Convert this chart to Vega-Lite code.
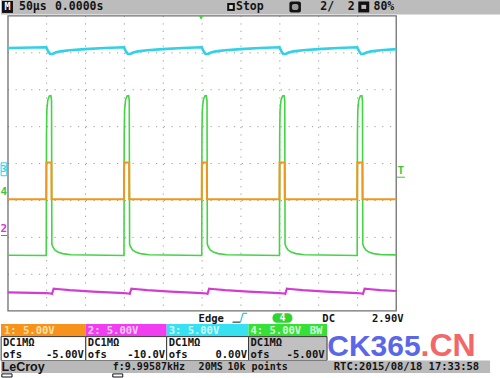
{
 "$schema": "https://vega.github.io/schema/vega-lite/v6.json",
 "width": 500, "height": 378,
 "autosize": {"type": "fit", "contains": "padding"},
 "padding": 0,
 "background": "#ffffff",
 "config": {
   "view": {"stroke": null},
   "axis": {"disable": true},
   "legend": {"disable": true},
   "text": {"font": "DejaVu Sans Mono", "fontWeight": "bold", "fontSize": 10.5, "color": "#141414", "align": "left", "baseline": "middle"}
 },
 "data": {"values": [{}]},
 "datasets": {
  "vgrid": [{"t": -200}, {"t": -150}, {"t": -100}, {"t": -50}, {"t": 0}, {"t": 50}, {"t": 100}, {"t": 150}, {"t": 200}],
  "hgrid": [{"v": -3}, {"v": -2}, {"v": -1}, {"v": 0}, {"v": 1}, {"v": 2}, {"v": 3}],
  "ch3": [
   {"t": -250, "v": 3.13},
   {"t": -200.5, "v": 3.15}, {"t": -198.5, "v": 3.06}, {"t": -195.5, "v": 2.97}, {"t": -192.5, "v": 2.97}, {"t": -188.5, "v": 3.01}, {"t": -182.5, "v": 3.04}, {"t": -170.5, "v": 3.07}, {"t": -150.5, "v": 3.1}, {"t": -125.5, "v": 3.13},
   {"t": -100.5, "v": 3.15}, {"t": -98.5, "v": 3.06}, {"t": -95.5, "v": 2.97}, {"t": -92.5, "v": 2.97}, {"t": -88.5, "v": 3.01}, {"t": -82.5, "v": 3.04}, {"t": -70.5, "v": 3.07}, {"t": -50.5, "v": 3.1}, {"t": -25.5, "v": 3.13},
   {"t": -0.5, "v": 3.15}, {"t": 1.5, "v": 3.06}, {"t": 4.5, "v": 2.97}, {"t": 7.5, "v": 2.97}, {"t": 11.5, "v": 3.01}, {"t": 17.5, "v": 3.04}, {"t": 29.5, "v": 3.07}, {"t": 49.5, "v": 3.1}, {"t": 74.5, "v": 3.13},
   {"t": 99.5, "v": 3.15}, {"t": 101.5, "v": 3.06}, {"t": 104.5, "v": 2.97}, {"t": 107.5, "v": 2.97}, {"t": 111.5, "v": 3.01}, {"t": 117.5, "v": 3.04}, {"t": 129.5, "v": 3.07}, {"t": 149.5, "v": 3.1}, {"t": 174.5, "v": 3.13},
   {"t": 199.5, "v": 3.15}, {"t": 201.5, "v": 3.06}, {"t": 204.5, "v": 2.97}, {"t": 207.5, "v": 2.97}, {"t": 211.5, "v": 3.01}, {"t": 217.5, "v": 3.04}, {"t": 229.5, "v": 3.07}, {"t": 250, "v": 3.1}
  ],
  "ch2": [
   {"t": -250, "v": -3.49},
   {"t": -200.5, "v": -3.51}, {"t": -194.5, "v": -3.52}, {"t": -193, "v": -3.53}, {"t": -191, "v": -3.39}, {"t": -186.5, "v": -3.4}, {"t": -170.5, "v": -3.43}, {"t": -140.5, "v": -3.47},
   {"t": -100.5, "v": -3.51}, {"t": -94.5, "v": -3.52}, {"t": -93, "v": -3.53}, {"t": -91, "v": -3.39}, {"t": -86.5, "v": -3.4}, {"t": -70.5, "v": -3.43}, {"t": -40.5, "v": -3.47},
   {"t": -0.5, "v": -3.51}, {"t": 5.5, "v": -3.52}, {"t": 7, "v": -3.53}, {"t": 9, "v": -3.39}, {"t": 13.5, "v": -3.4}, {"t": 29.5, "v": -3.43}, {"t": 59.5, "v": -3.47},
   {"t": 99.5, "v": -3.51}, {"t": 105.5, "v": -3.52}, {"t": 107, "v": -3.53}, {"t": 109, "v": -3.39}, {"t": 113.5, "v": -3.4}, {"t": 129.5, "v": -3.43}, {"t": 159.5, "v": -3.47},
   {"t": 199.5, "v": -3.51}, {"t": 205.5, "v": -3.52}, {"t": 207, "v": -3.53}, {"t": 209, "v": -3.39}, {"t": 213.5, "v": -3.4}, {"t": 229.5, "v": -3.43}, {"t": 250, "v": -3.455}
  ],
  "ch4": [
   {"t": -250, "v": -2.485},
   {"t": -200.5, "v": -2.49}, {"t": -200.2, "v": 0.8}, {"t": -199.7, "v": 1.45}, {"t": -198.5, "v": 1.72}, {"t": -196.5, "v": 1.83}, {"t": -194.5, "v": 1.84}, {"t": -193.7, "v": 1.7}, {"t": -193.3, "v": -2.18}, {"t": -192, "v": -2.26}, {"t": -189.5, "v": -2.34}, {"t": -185.5, "v": -2.4}, {"t": -179.5, "v": -2.44}, {"t": -168.5, "v": -2.47}, {"t": -145.5, "v": -2.48},
   {"t": -100.5, "v": -2.49}, {"t": -100.2, "v": 0.8}, {"t": -99.7, "v": 1.45}, {"t": -98.5, "v": 1.72}, {"t": -96.5, "v": 1.83}, {"t": -94.5, "v": 1.84}, {"t": -93.7, "v": 1.7}, {"t": -93.3, "v": -2.18}, {"t": -92, "v": -2.26}, {"t": -89.5, "v": -2.34}, {"t": -85.5, "v": -2.4}, {"t": -79.5, "v": -2.44}, {"t": -68.5, "v": -2.47}, {"t": -45.5, "v": -2.48},
   {"t": -0.5, "v": -2.49}, {"t": -0.2, "v": 0.8}, {"t": 0.3, "v": 1.45}, {"t": 1.5, "v": 1.72}, {"t": 3.5, "v": 1.83}, {"t": 5.5, "v": 1.84}, {"t": 6.3, "v": 1.7}, {"t": 6.7, "v": -2.18}, {"t": 8, "v": -2.26}, {"t": 10.5, "v": -2.34}, {"t": 14.5, "v": -2.4}, {"t": 20.5, "v": -2.44}, {"t": 31.5, "v": -2.47}, {"t": 54.5, "v": -2.48},
   {"t": 99.5, "v": -2.49}, {"t": 99.8, "v": 0.8}, {"t": 100.3, "v": 1.45}, {"t": 101.5, "v": 1.72}, {"t": 103.5, "v": 1.83}, {"t": 105.5, "v": 1.84}, {"t": 106.3, "v": 1.7}, {"t": 106.7, "v": -2.18}, {"t": 108, "v": -2.26}, {"t": 110.5, "v": -2.34}, {"t": 114.5, "v": -2.4}, {"t": 120.5, "v": -2.44}, {"t": 131.5, "v": -2.47}, {"t": 154.5, "v": -2.48},
   {"t": 199.5, "v": -2.49}, {"t": 199.8, "v": 0.8}, {"t": 200.3, "v": 1.45}, {"t": 201.5, "v": 1.72}, {"t": 203.5, "v": 1.83}, {"t": 205.5, "v": 1.84}, {"t": 206.3, "v": 1.7}, {"t": 206.7, "v": -2.18}, {"t": 208, "v": -2.26}, {"t": 210.5, "v": -2.34}, {"t": 214.5, "v": -2.4}, {"t": 220.5, "v": -2.44}, {"t": 231.5, "v": -2.47}, {"t": 250, "v": -2.475}
  ],
  "ch1": [
   {"t": -250, "v": -0.97},
   {"t": -200.5, "v": -0.97}, {"t": -200.3, "v": 0.03}, {"t": -193.9, "v": 0.03}, {"t": -193.7, "v": -0.97},
   {"t": -100.5, "v": -0.97}, {"t": -100.3, "v": 0.03}, {"t": -93.9, "v": 0.03}, {"t": -93.7, "v": -0.97},
   {"t": -0.5, "v": -0.97}, {"t": -0.3, "v": 0.03}, {"t": 6.1, "v": 0.03}, {"t": 6.3, "v": -0.97},
   {"t": 99.5, "v": -0.97}, {"t": 99.7, "v": 0.03}, {"t": 106.1, "v": 0.03}, {"t": 106.3, "v": -0.97},
   {"t": 199.5, "v": -0.97}, {"t": 199.7, "v": 0.03}, {"t": 206.1, "v": 0.03}, {"t": 206.3, "v": -0.97},
   {"t": 250, "v": -0.97}
  ]
 },
 "layer": [
  {"mark": {"type": "rect", "color": "#bcbcbc"},
   "encoding": {
    "x": {"datum": -258.7, "type": "quantitative", "scale": {"domain": [-258.7, 383.2], "nice": false, "zero": false}},
    "x2": {"datum": 383.2},
    "y": {"datum": 4.432, "type": "quantitative", "scale": {"domain": [-5.784, 4.432], "nice": false, "zero": false}},
    "y2": {"datum": 4.041}}},
  {"mark": {"type": "rect", "color": "#111111"}, "encoding": {"x": {"datum": -257.4}, "x2": {"datum": -243.3}, "y": {"datum": 4.405}, "y2": {"datum": 4.081}}},
  {"mark": {"type": "text", "text": "M", "color": "#ffffff", "align": "center", "fontSize": 10}, "encoding": {"x": {"datum": -250.3}, "y": {"datum": 4.243}}},
  {"mark": {"type": "text", "text": "50µs", "fontSize": 11.5}, "encoding": {"x": {"datum": -235.6}, "y": {"datum": 4.243}}},
  {"mark": {"type": "text", "text": "0.0000s", "fontSize": 11.5}, "encoding": {"x": {"datum": -189.3}, "y": {"datum": 4.243}}},
  {"mark": {"type": "rect", "color": "#111111"}, "encoding": {"x": {"datum": 32.3}, "x2": {"datum": 42.1}, "y": {"datum": 4.351}, "y2": {"datum": 4.135}}},
  {"mark": {"type": "rect", "color": "#d8d8d8"}, "encoding": {"x": {"datum": 34.9}, "x2": {"datum": 39.5}, "y": {"datum": 4.297}, "y2": {"datum": 4.189}}},
  {"mark": {"type": "text", "text": "Stop", "fontSize": 11.5}, "encoding": {"x": {"datum": 43.6}, "y": {"datum": 4.243}}},
  {"mark": {"type": "rect", "color": "#111111", "cornerRadius": 2}, "encoding": {"x": {"datum": 112.3}, "x2": {"datum": 127.1}, "y": {"datum": 4.392}, "y2": {"datum": 4.095}}},
  {"mark": {"type": "rect", "color": "#9a9a9a", "cornerRadius": 2}, "encoding": {"x": {"datum": 115.5}, "x2": {"datum": 123.9}, "y": {"datum": 4.324}, "y2": {"datum": 4.162}}},
  {"mark": {"type": "text", "text": "2/", "fontSize": 11.5}, "encoding": {"x": {"datum": 152.1}, "y": {"datum": 4.243}}},
  {"mark": {"type": "text", "text": "2", "fontSize": 11.5}, "encoding": {"x": {"datum": 187.5}, "y": {"datum": 4.243}}},
  {"mark": {"type": "rect", "color": "#111111"}, "encoding": {"x": {"datum": 200.9}, "x2": {"datum": 215.0}, "y": {"datum": 4.392}, "y2": {"datum": 4.095}}},
  {"mark": {"type": "rect", "color": "#bdbdbd"}, "encoding": {"x": {"datum": 204.9}, "x2": {"datum": 211.0}, "y": {"datum": 4.3}, "y2": {"datum": 4.19}}},
  {"mark": {"type": "text", "text": "80%", "fontSize": 11.5}, "encoding": {"x": {"datum": 220.5}, "y": {"datum": 4.243}}},

  {"data": {"name": "vgrid"}, "mark": {"type": "rule", "color": "#9c9c9c", "strokeWidth": 1, "strokeDash": [1.2, 6.2]},
   "encoding": {"x": {"field": "t", "type": "quantitative"}, "y": {"datum": 4}, "y2": {"datum": -4}}},
  {"data": {"name": "hgrid"}, "mark": {"type": "rule", "color": "#9c9c9c", "strokeWidth": 1, "strokeDash": [1.2, 6.6]},
   "encoding": {"y": {"field": "v", "type": "quantitative"}, "x": {"datum": -250}, "x2": {"datum": 250}}},
  {"mark": {"type": "rect", "filled": false, "stroke": "#707070", "strokeWidth": 1.3}, "encoding": {"x": {"datum": -249.7}, "x2": {"datum": 249.7}, "y": {"datum": 4}, "y2": {"datum": -3.99}}},
  {"mark": {"type": "point", "shape": "triangle-down", "filled": true, "color": "#3fd23f", "size": 22, "opacity": 1}, "encoding": {"x": {"datum": -1.3}, "y": {"datum": 3.95}}},

  {"data": {"name": "ch3"}, "mark": {"type": "line", "color": "#33d0e6", "strokeWidth": 2.6}, "encoding": {"x": {"field": "t", "type": "quantitative"}, "y": {"field": "v", "type": "quantitative"}}},
  {"data": {"name": "ch2"}, "mark": {"type": "line", "color": "#d23cd2", "strokeWidth": 2.1}, "encoding": {"x": {"field": "t", "type": "quantitative"}, "y": {"field": "v", "type": "quantitative"}}},
  {"data": {"name": "ch4"}, "mark": {"type": "line", "color": "#45d445", "strokeWidth": 1.6}, "encoding": {"x": {"field": "t", "type": "quantitative"}, "y": {"field": "v", "type": "quantitative"}}},
  {"data": {"name": "ch1"}, "mark": {"type": "line", "color": "#f0961e", "strokeWidth": 2}, "encoding": {"x": {"field": "t", "type": "quantitative"}, "y": {"field": "v", "type": "quantitative"}}},

  {"mark": {"type": "rect", "filled": false, "stroke": "#33d0e6", "strokeWidth": 1}, "encoding": {"x": {"datum": -258.5}, "x2": {"datum": -251.3}, "y": {"datum": 0.02}, "y2": {"datum": -0.33}}},
  {"mark": {"type": "text", "text": "3", "color": "#33d0e6", "align": "center", "fontSize": 9.5}, "encoding": {"x": {"datum": -255.2}, "y": {"datum": -0.16}}},
  {"mark": {"type": "text", "text": "4", "color": "#3cc83c", "align": "center", "fontSize": 11}, "encoding": {"x": {"datum": -255.2}, "y": {"datum": -0.76}}},
  {"mark": {"type": "text", "text": "2", "color": "#d23cd2", "align": "center", "fontSize": 11}, "encoding": {"x": {"datum": -255.2}, "y": {"datum": -1.78}}},
  {"mark": {"type": "rule", "color": "#d23cd2", "strokeWidth": 1}, "encoding": {"x": {"datum": -258.7}, "x2": {"datum": -250.5}, "y": {"datum": -1.95}}},
  {"mark": {"type": "text", "text": "T", "color": "#3cc83c", "align": "center", "fontSize": 11}, "encoding": {"x": {"datum": 255.5}, "y": {"datum": -0.2}}},
  {"mark": {"type": "rule", "color": "#3cc83c", "strokeWidth": 1}, "encoding": {"x": {"datum": 250.5}, "x2": {"datum": 261}, "y": {"datum": -0.37}}},

  {"mark": {"type": "text", "text": "Edge"}, "encoding": {"x": {"datum": -4.5}, "y": {"datum": -4.2}}},
  {"mark": {"type": "rule", "color": "#141414", "strokeWidth": 1}, "encoding": {"x": {"datum": 39.2}, "x2": {"datum": 49.4}, "y": {"datum": -4.297}}},
  {"mark": {"type": "rule", "color": "#33c8e0", "strokeWidth": 1.3}, "encoding": {"x": {"datum": 49.4}, "x2": {"datum": 52.5}, "y": {"datum": -4.297}, "y2": {"datum": -4.06}}},
  {"mark": {"type": "rule", "color": "#33c8e0", "strokeWidth": 1.3}, "encoding": {"x": {"datum": 52.5}, "x2": {"datum": 58}, "y": {"datum": -4.06}}},
  {"mark": {"type": "rect", "color": "#2fd42f", "cornerRadius": 4.5}, "encoding": {"x": {"datum": 90.5}, "x2": {"datum": 116.2}, "y": {"datum": -4.054}, "y2": {"datum": -4.311}}},
  {"mark": {"type": "text", "text": "4", "color": "#ffffff", "align": "center", "fontSize": 10}, "encoding": {"x": {"datum": 103.3}, "y": {"datum": -4.18}}},
  {"mark": {"type": "text", "text": "DC"}, "encoding": {"x": {"datum": 154.7}, "y": {"datum": -4.2}}},
  {"mark": {"type": "text", "text": "2.90V"}, "encoding": {"x": {"datum": 218.5}, "y": {"datum": -4.2}}},

  {"mark": {"type": "rect", "color": "#f7921c"}, "encoding": {"x": {"datum": -258.7}, "x2": {"datum": -149.6}, "y": {"datum": -4.351}, "y2": {"datum": -4.689}}},
  {"mark": {"type": "rect", "color": "#f23cf2"}, "encoding": {"x": {"datum": -149.6}, "x2": {"datum": -45.6}, "y": {"datum": -4.351}, "y2": {"datum": -4.689}}},
  {"mark": {"type": "rect", "color": "#36e2f2"}, "encoding": {"x": {"datum": -45.6}, "x2": {"datum": 59.7}, "y": {"datum": -4.351}, "y2": {"datum": -4.689}}},
  {"mark": {"type": "rect", "color": "#36e036"}, "encoding": {"x": {"datum": 59.7}, "x2": {"datum": 160.7}, "y": {"datum": -4.351}, "y2": {"datum": -4.689}}},
  {"mark": {"type": "rect", "fill": "#ffffff", "stroke": "#3a3a3a", "strokeWidth": 1}, "encoding": {"x": {"datum": -258.5}, "x2": {"datum": -149.6}, "y": {"datum": -4.689}, "y2": {"datum": -5.338}}},
  {"mark": {"type": "rect", "fill": "#ffffff", "stroke": "#3a3a3a", "strokeWidth": 1}, "encoding": {"x": {"datum": -149.6}, "x2": {"datum": -45.6}, "y": {"datum": -4.689}, "y2": {"datum": -5.338}}},
  {"mark": {"type": "rect", "fill": "#ffffff", "stroke": "#3a3a3a", "strokeWidth": 1}, "encoding": {"x": {"datum": -45.6}, "x2": {"datum": 59.7}, "y": {"datum": -4.689}, "y2": {"datum": -5.338}}},
  {"mark": {"type": "rect", "fill": "#c0c0c0", "stroke": "#3a3a3a", "strokeWidth": 1}, "encoding": {"x": {"datum": 59.7}, "x2": {"datum": 160.7}, "y": {"datum": -4.689}, "y2": {"datum": -5.338}}},
  {"mark": {"type": "text", "text": "1: 5.00V", "color": "#ffe2a6"}, "encoding": {"x": {"datum": -254.8}, "y": {"datum": -4.527}}},
  {"mark": {"type": "text", "text": "2: 5.00V", "color": "#ffd0ff"}, "encoding": {"x": {"datum": -147.0}, "y": {"datum": -4.527}}},
  {"mark": {"type": "text", "text": "3: 5.00V", "color": "#d6fbff"}, "encoding": {"x": {"datum": -43.0}, "y": {"datum": -4.527}}},
  {"mark": {"type": "text", "text": "4: 5.00V", "color": "#d6ffd6"}, "encoding": {"x": {"datum": 62.3}, "y": {"datum": -4.527}}},
  {"mark": {"type": "text", "text": "BW", "color": "#d6ffd6", "align": "right"}, "encoding": {"x": {"datum": 154.7}, "y": {"datum": -4.527}}},
  {"mark": {"type": "text", "text": "DC1MΩ"}, "encoding": {"x": {"datum": -256.1}, "y": {"datum": -4.851}}},
  {"mark": {"type": "text", "text": "DC1MΩ"}, "encoding": {"x": {"datum": -147.0}, "y": {"datum": -4.851}}},
  {"mark": {"type": "text", "text": "DC1MΩ"}, "encoding": {"x": {"datum": -43.0}, "y": {"datum": -4.851}}},
  {"mark": {"type": "text", "text": "DC1MΩ"}, "encoding": {"x": {"datum": 62.3}, "y": {"datum": -4.851}}},
  {"mark": {"type": "text", "text": "ofs"}, "encoding": {"x": {"datum": -256.1}, "y": {"datum": -5.176}}},
  {"mark": {"type": "text", "text": "ofs"}, "encoding": {"x": {"datum": -147.0}, "y": {"datum": -5.176}}},
  {"mark": {"type": "text", "text": "ofs"}, "encoding": {"x": {"datum": -43.0}, "y": {"datum": -5.176}}},
  {"mark": {"type": "text", "text": "ofs"}, "encoding": {"x": {"datum": 62.3}, "y": {"datum": -5.176}}},
  {"mark": {"type": "text", "text": "-5.00V", "align": "right"}, "encoding": {"x": {"datum": -152.1}, "y": {"datum": -5.176}}},
  {"mark": {"type": "text", "text": "-10.0V", "align": "right"}, "encoding": {"x": {"datum": -47.5}, "y": {"datum": -5.176}}},
  {"mark": {"type": "text", "text": "0.00V", "align": "right"}, "encoding": {"x": {"datum": 57.8}, "y": {"datum": -5.176}}},
  {"mark": {"type": "text", "text": "-5.00V", "align": "right"}, "encoding": {"x": {"datum": 157.5}, "y": {"datum": -5.176}}},

  {"mark": {"type": "rect", "color": "#b9b9b9"}, "encoding": {"x": {"datum": -258.7}, "x2": {"datum": 370.4}, "y": {"datum": -5.338}, "y2": {"datum": -5.676}}},
  {"mark": {"type": "text", "text": "LeCroy", "font": "Liberation Sans", "fontSize": 12.5}, "encoding": {"x": {"datum": -258.0}, "y": {"datum": -5.514}}},
  {"mark": {"type": "text", "text": "f:9.99587kHz", "fontSize": 10}, "encoding": {"x": {"datum": -114.9}, "y": {"datum": -5.514}}},
  {"mark": {"type": "text", "text": "20MS", "fontSize": 10}, "encoding": {"x": {"datum": -4.5}, "y": {"datum": -5.514}}},
  {"mark": {"type": "text", "text": "10k points", "fontSize": 10}, "encoding": {"x": {"datum": 32.7}, "y": {"datum": -5.514}}},
  {"mark": {"type": "text", "text": "RTC:2015/08/18 17:33:58"}, "encoding": {"x": {"datum": 169.4}, "y": {"datum": -5.514}}},
  {"mark": {"type": "rect", "filled": false, "stroke": "#111111", "strokeWidth": 1}, "encoding": {"x": {"datum": -257.6}, "x2": {"datum": -244.5}, "y": {"datum": -5.7}, "y2": {"datum": -5.784}}},
  {"mark": {"type": "rect", "filled": false, "stroke": "#111111", "strokeWidth": 1}, "encoding": {"x": {"datum": -114.9}, "x2": {"datum": -102.1}, "y": {"datum": -5.7}, "y2": {"datum": -5.784}}},

  {"mark": {"type": "text", "text": "CK365", "font": "Liberation Sans", "fontSize": 30, "color": "#5a68e8", "baseline": "alphabetic"}, "encoding": {"x": {"datum": 161.0}, "y": {"datum": -5.216}}},
  {"mark": {"type": "text", "text": ".CN", "font": "Liberation Sans", "fontSize": 32, "color": "#f26868", "baseline": "alphabetic"}, "encoding": {"x": {"datum": 281.0}, "y": {"datum": -5.216}}}
 ]
}
